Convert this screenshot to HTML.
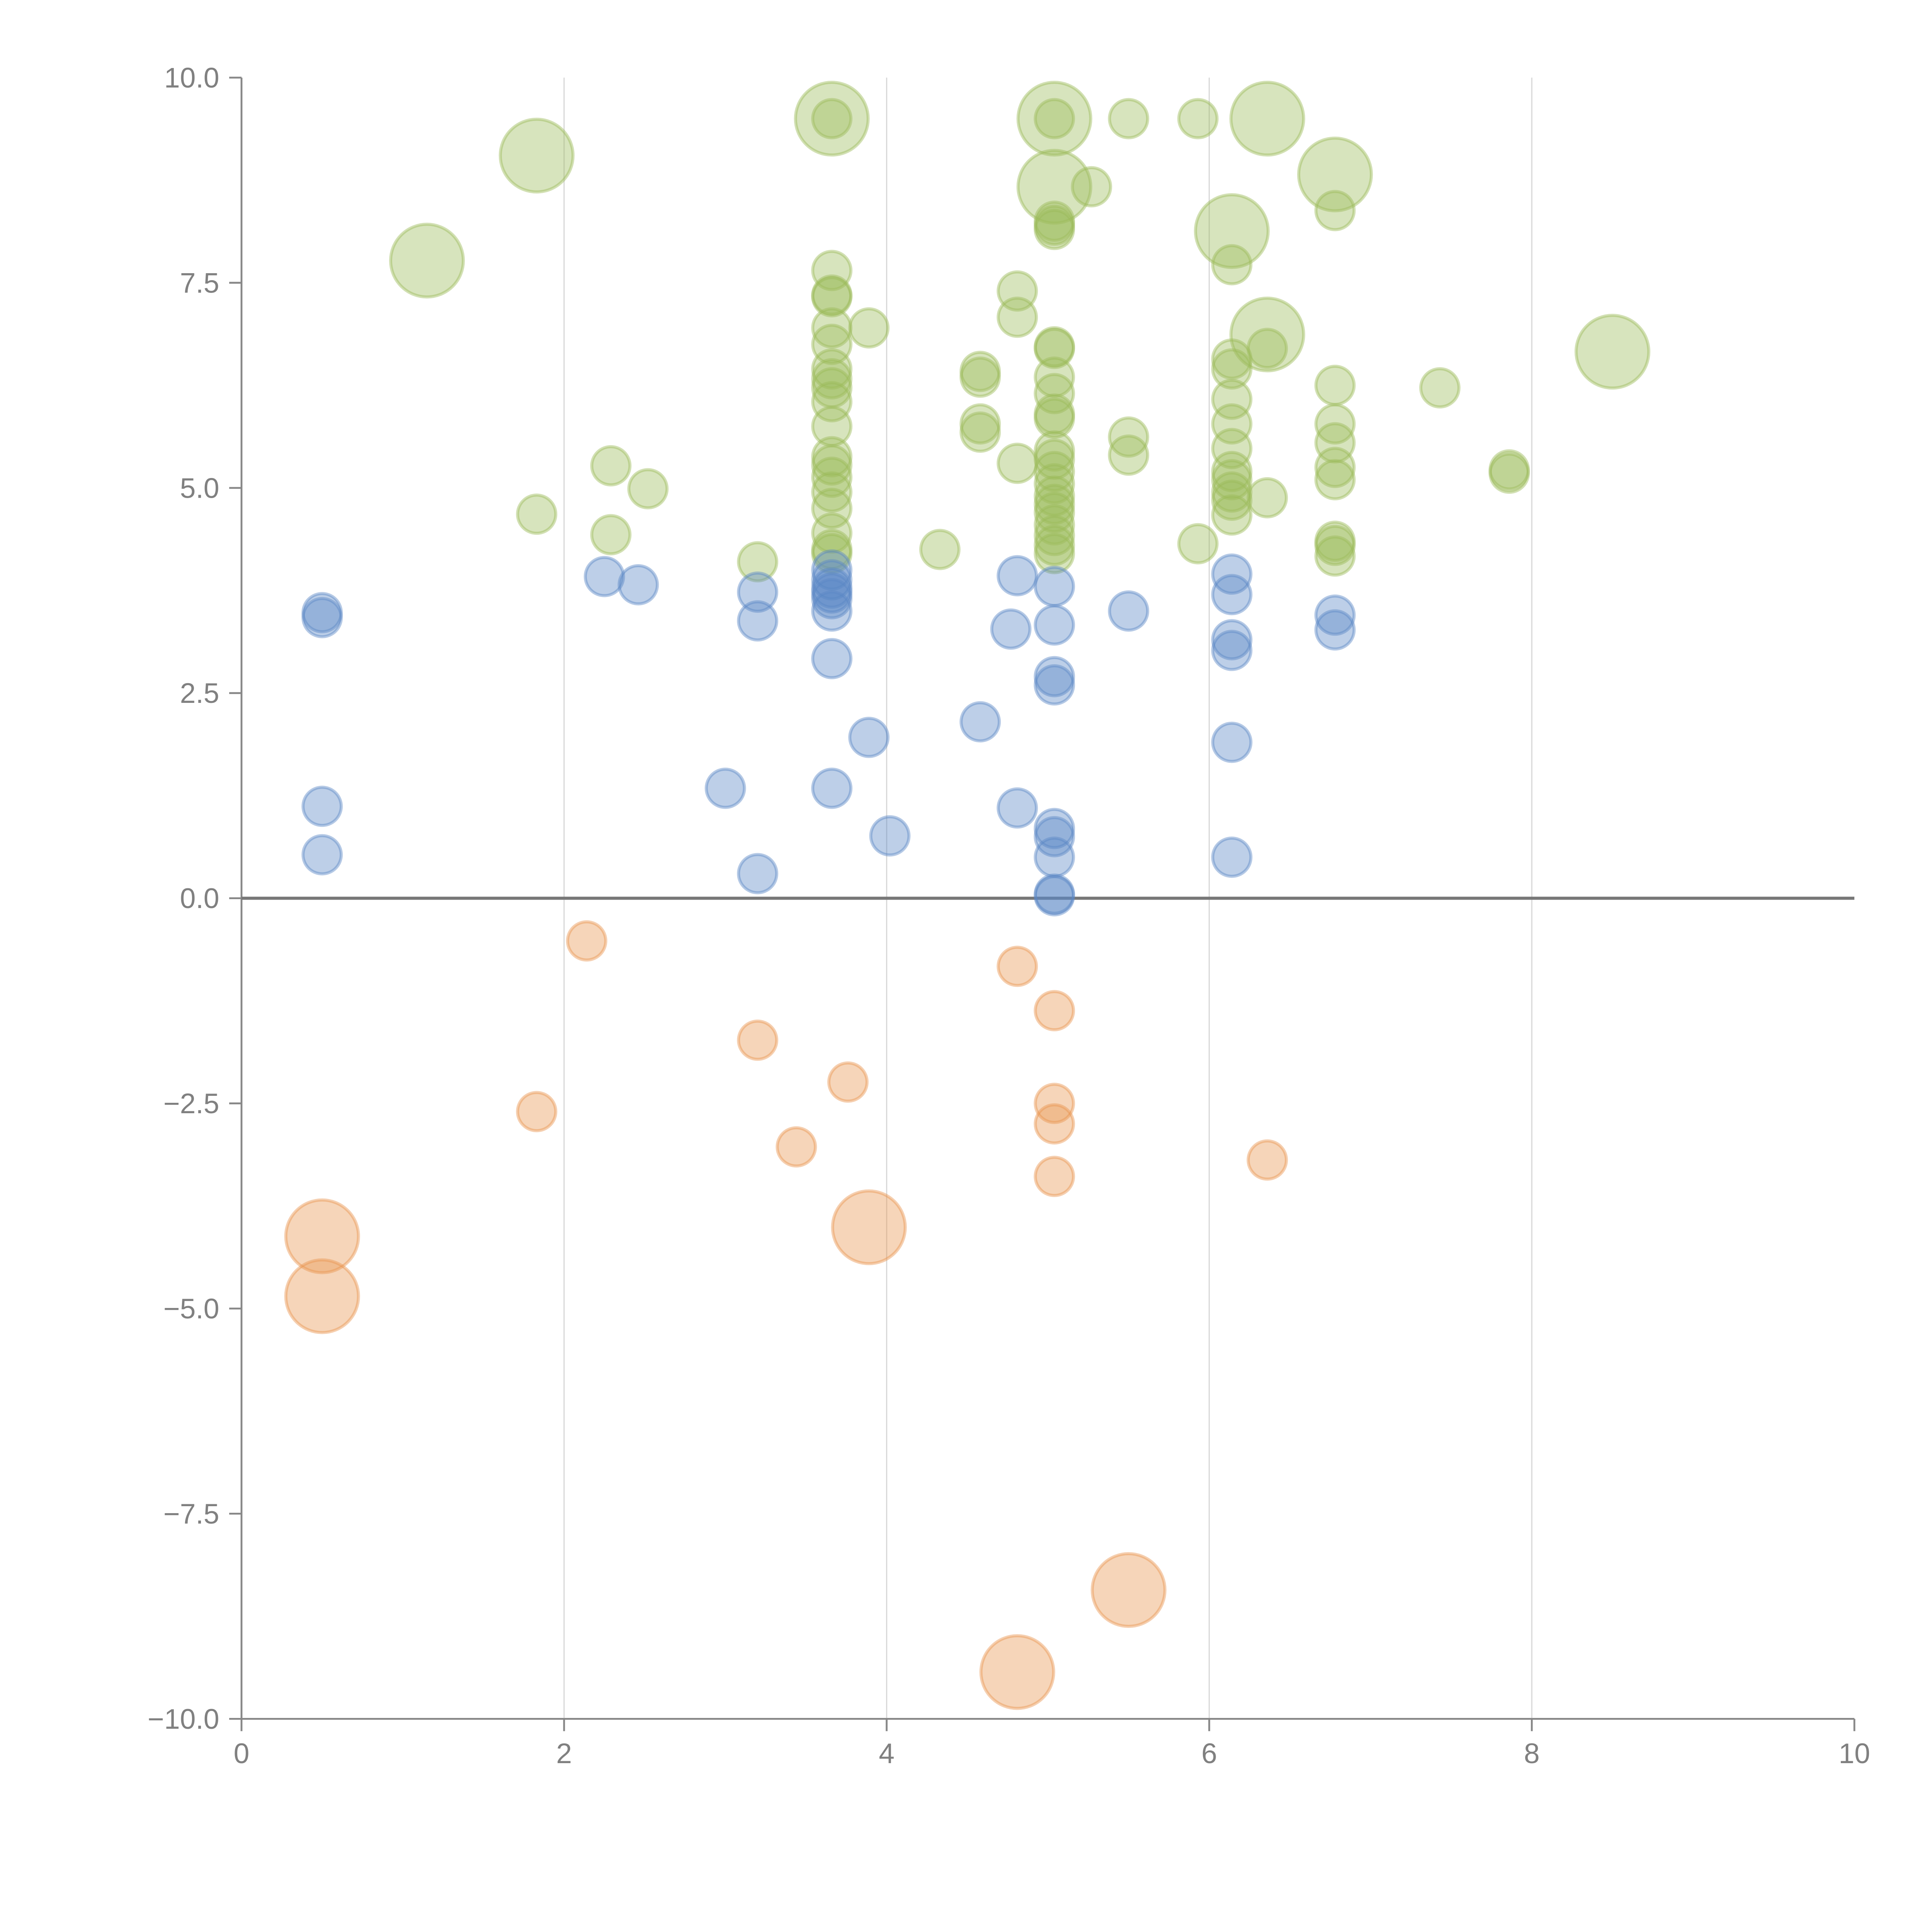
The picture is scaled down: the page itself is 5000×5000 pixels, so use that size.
<!DOCTYPE html>
<html><head><meta charset="utf-8">
<style>html,body{margin:0;padding:0;background:#fff}svg{display:block}text{font-family:"Liberation Sans",sans-serif;fill:#808080}</style>
</head><body>
<svg id="chart" width="5000" height="5000" viewBox="0 0 1568 1568" xmlns="http://www.w3.org/2000/svg">
<g id="grid"></g>
<g id="axes"></g>
<g id="marks"></g>
</svg>
<script>
const xTicks=[0,2,4,6,8,10];
const yTicks=[10,7.5,5,2.5,0,-2.5,-5,-7.5,-10];
const yTickLabels=["10.0","7.5","5.0","2.5","0.0","\u22122.5","\u22125.0","\u22127.5","\u221210.0"];
const greenX=[1.83,1.15,3.66,3.66,5.04,5.04,5.5,5.93,6.36,6.78,6.78,5.04,5.27,5.04,5.04,5.04,6.14,6.14,6.36,6.36,8.5,7.43,7.86,7.86,
3.66,3.66,3.66,3.66,3.66,3.66,3.66,3.66,3.66,3.66,3.66,3.66,3.66,3.66,3.66,3.66,3.66,3.66,3.89,
4.81,4.81,4.81,4.58,4.58,4.58,4.58,4.33,
5.04,5.04,5.04,5.04,5.04,5.04,5.04,5.04,5.04,5.04,5.04,5.04,5.04,5.04,5.04,5.04,5.04,
5.5,5.5,5.93,6.14,6.14,6.14,6.14,6.14,6.14,6.14,6.14,6.14,6.14,6.36,
6.78,6.78,6.78,6.78,6.78,6.78,6.78,6.78,
1.83,2.29,2.29,2.52,3.2];
const greenY=[9.05,7.77,9.5,9.5,9.5,9.5,9.5,9.5,9.5,8.82,8.38,8.67,8.67,8.2,8.25,8.15,8.13,7.72,6.87,6.7,6.66,6.22,5.22,5.18,
7.65,7.35,7.33,6.95,6.75,6.45,6.33,6.22,6.05,5.75,5.38,5.28,5.13,4.95,4.75,4.45,4.25,4.2,6.95,
7.4,7.08,5.3,6.42,6.35,5.78,5.68,4.25,
6.72,6.7,6.35,6.15,5.9,5.85,5.45,5.35,5.2,5.05,4.9,4.8,4.7,4.55,4.42,4.3,4.2,
5.62,5.4,4.32,6.57,6.45,6.08,5.78,5.48,5.2,5.1,4.95,4.85,4.67,4.88,
6.25,5.78,5.55,5.25,5.1,4.35,4.3,4.17,
4.68,5.27,4.43,4.99,4.1];
const greenS=[2,2,2,1,2,1,1,1,2,2,1,2,1,1,1,1,2,1,2,1,2,1,1,1];
const blueX=[0.5,0.5,0.5,0.5,2.25,2.46,3.2,3.2,3.2,3.0,3.66,3.66,3.66,3.66,3.66,3.66,3.66,3.66,3.89,4.02,4.58,4.81,4.77,4.81,
5.04,5.04,5.04,5.04,5.04,5.04,5.04,5.04,5.04,5.5,6.14,6.14,6.14,6.14,6.14,6.14,6.78,6.78];
const blueY=[3.48,3.42,1.12,0.53,3.92,3.82,3.73,3.38,0.3,1.34,4.0,3.88,3.78,3.72,3.65,3.5,2.92,1.34,1.96,0.76,2.15,3.93,3.28,1.1,
3.8,3.33,2.7,2.6,0.85,0.75,0.5,0.05,0.03,3.5,3.95,3.7,3.15,3.02,1.9,0.5,3.45,3.27];
const orangeX=[2.14,1.83,3.2,3.76,3.44,4.81,5.04,5.04,5.04,5.04,6.36,0.5,0.5,3.89,5.5,4.81];
const orangeY=[-0.52,-2.6,-1.73,-2.24,-3.03,-0.83,-1.37,-2.5,-2.75,-3.39,-3.19,-4.12,-4.85,-4.01,-8.43,-9.43];
const orangeS=[1,1,1,1,1,1,1,1,1,1,1,2,2,2,2,2];

const X0=196,X1=1505,Y0=63,Y1=1395;
function sx(v){return X0+(v-0)/(10-0)*(X1-X0);}
function sy(v){return Y1-(v+10)/20*(Y1-Y0);}
function rad(s){return s===2?29.5:15.5;}
const NS="http://www.w3.org/2000/svg";
function mk(tag,attrs,parent){const e=document.createElementNS(NS,tag);for(const k in attrs)e.setAttribute(k,attrs[k]);parent.appendChild(e);return e;}
const grid=document.getElementById('grid'),axes=document.getElementById('axes'),marks=document.getElementById('marks');
xTicks.forEach(t=>{
  if(t>0&&t<10){const g=mk('line',{x1:sx(t),x2:sx(t),y1:Y0,y2:Y1,stroke:'#d9d9d9','stroke-width':1},grid);
  
  }
  const tk=mk('line',{x1:sx(t),x2:sx(t),y1:Y1,y2:Y1+10,stroke:'#888','stroke-width':1.5},axes);
  
  
  const tx=mk('text',{x:sx(t),y:Y1+36,'text-anchor':'middle','font-size':23},axes);
  tx.textContent=String(t);
  
  
});
yTicks.forEach((t,i)=>{
  const tk=mk('line',{x1:X0-10,x2:X0,y1:sy(t),y2:sy(t),stroke:'#888','stroke-width':1.5},axes);
  
  
  const tx=mk('text',{x:X0-18,y:sy(t)+8,'text-anchor':'end','font-size':23},axes);
  tx.textContent=yTickLabels[i];
  
  
});
const ya=mk('line',{x1:X0,x2:X0,y1:Y0,y2:Y1,stroke:'#888','stroke-width':1.5},axes);


const xa=mk('line',{x1:X0,x2:X1,y1:Y1,y2:Y1,stroke:'#888','stroke-width':1.5},axes);


const zl=mk('line',{x1:X0,x2:X1,y1:sy(0),y2:sy(0),stroke:'#777','stroke-width':2.5},axes);


function series(xs,ys,ss,color,name){
  xs.forEach((x,i)=>{
    const s=ss?(ss[i]||1):1;
    const c=mk('circle',{cx:sx(x),cy:sy(ys[i]),r:rad(s),fill:color,'fill-opacity':0.4,stroke:color,'stroke-opacity':0.45,'stroke-width':2.5},marks);
    
    
  });
}
series(greenX,greenY,greenS,'#9bbb59','bubble-green');
series(blueX,blueY,null,'#5b87c5','bubble-blue');
series(orangeX,orangeY,orangeS,'#e8954f','bubble-orange');
</script>
</body></html>
